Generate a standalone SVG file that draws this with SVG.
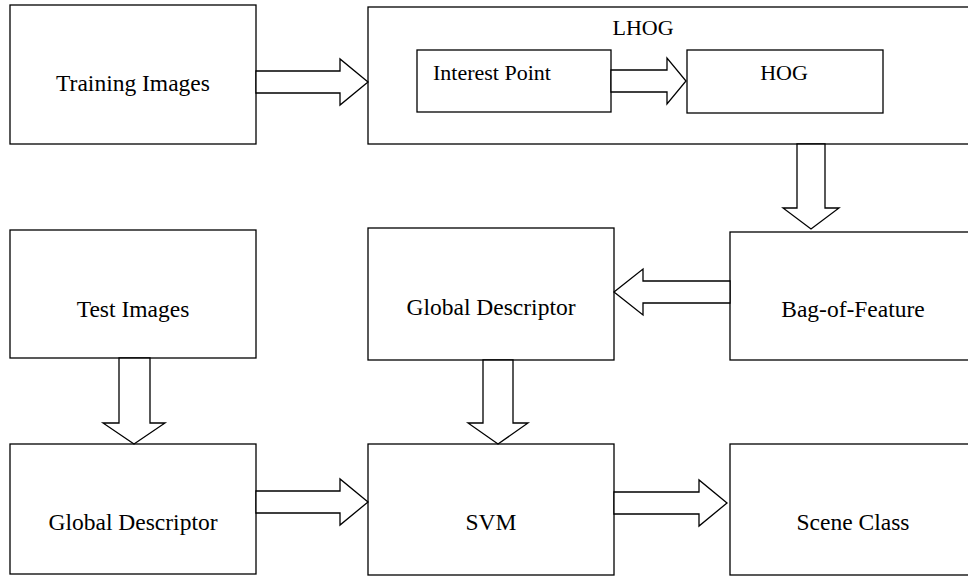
<svg xmlns="http://www.w3.org/2000/svg" width="968" height="576" viewBox="0 0 968 576">
<style>
.box{fill:#fff;stroke:#000;stroke-width:1.3}
.arr{fill:#fff;stroke:#000;stroke-width:1.3;stroke-linejoin:miter}
text{font-family:"Liberation Serif","Times New Roman",serif;font-size:23.5px;fill:#000}
.s{font-size:22px}
.c{text-anchor:middle}
</style>
<rect width="968" height="576" fill="#fff"/>
<g id="training"><rect class="box" x="10" y="5" width="246" height="139"/><text class="c" x="133" y="91">Training Images</text></g>
<g id="lhog"><rect class="box" x="368" y="7" width="610" height="137"/><text class="c s" x="643" y="35">LHOG</text></g>
<g id="interest"><rect class="box" x="417" y="50" width="194" height="62"/><text class="s" x="433" y="80">Interest Point</text></g>
<g id="hog"><rect class="box" x="687" y="50" width="196" height="63"/><text class="c s" x="784" y="80">HOG</text></g>
<g id="bof"><rect class="box" x="730" y="232" width="248" height="128"/><text class="c" x="853" y="317">Bag-of-Feature</text></g>
<g id="gdesc1"><rect class="box" x="368" y="228" width="246" height="132"/><text class="c" x="491" y="315">Global Descriptor</text></g>
<g id="test"><rect class="box" x="10" y="230" width="246" height="128"/><text class="c" x="133" y="317">Test Images</text></g>
<g id="gdesc2"><rect class="box" x="10" y="444" width="246" height="130"/><text class="c" x="133" y="530">Global Descriptor</text></g>
<g id="svm"><rect class="box" x="368" y="444" width="246" height="131"/><text class="c" x="491" y="530">SVM</text></g>
<g id="scene"><rect class="box" x="730" y="444" width="248" height="131"/><text class="c" x="853" y="530">Scene Class</text></g>
<g id="connectors">
<polygon class="arr" points="256,71 340,71 340,59 368,82 340,105 340,93 256,93"/>
<polygon class="arr" points="611,70 667,70 667,58 686,81 667,104 667,92 611,92"/>
<polygon class="arr" points="797,144 825,144 825,208 839,208 811,229 783,208 797,208"/>
<polygon class="arr" points="730,281 643,281 643,269 614,292 643,315 643,303 730,303"/>
<polygon class="arr" points="119,358 150,358 150,423 165,423 134,444 103,423 119,423"/>
<polygon class="arr" points="483,360 513,360 513,423 528,423 498,444 468,423 483,423"/>
<polygon class="arr" points="256,491 340,491 340,479 368,502 340,525 340,513 256,513"/>
<polygon class="arr" points="614,492 699,492 699,480 727,503 699,526 699,514 614,514"/>
</g>
</svg>
